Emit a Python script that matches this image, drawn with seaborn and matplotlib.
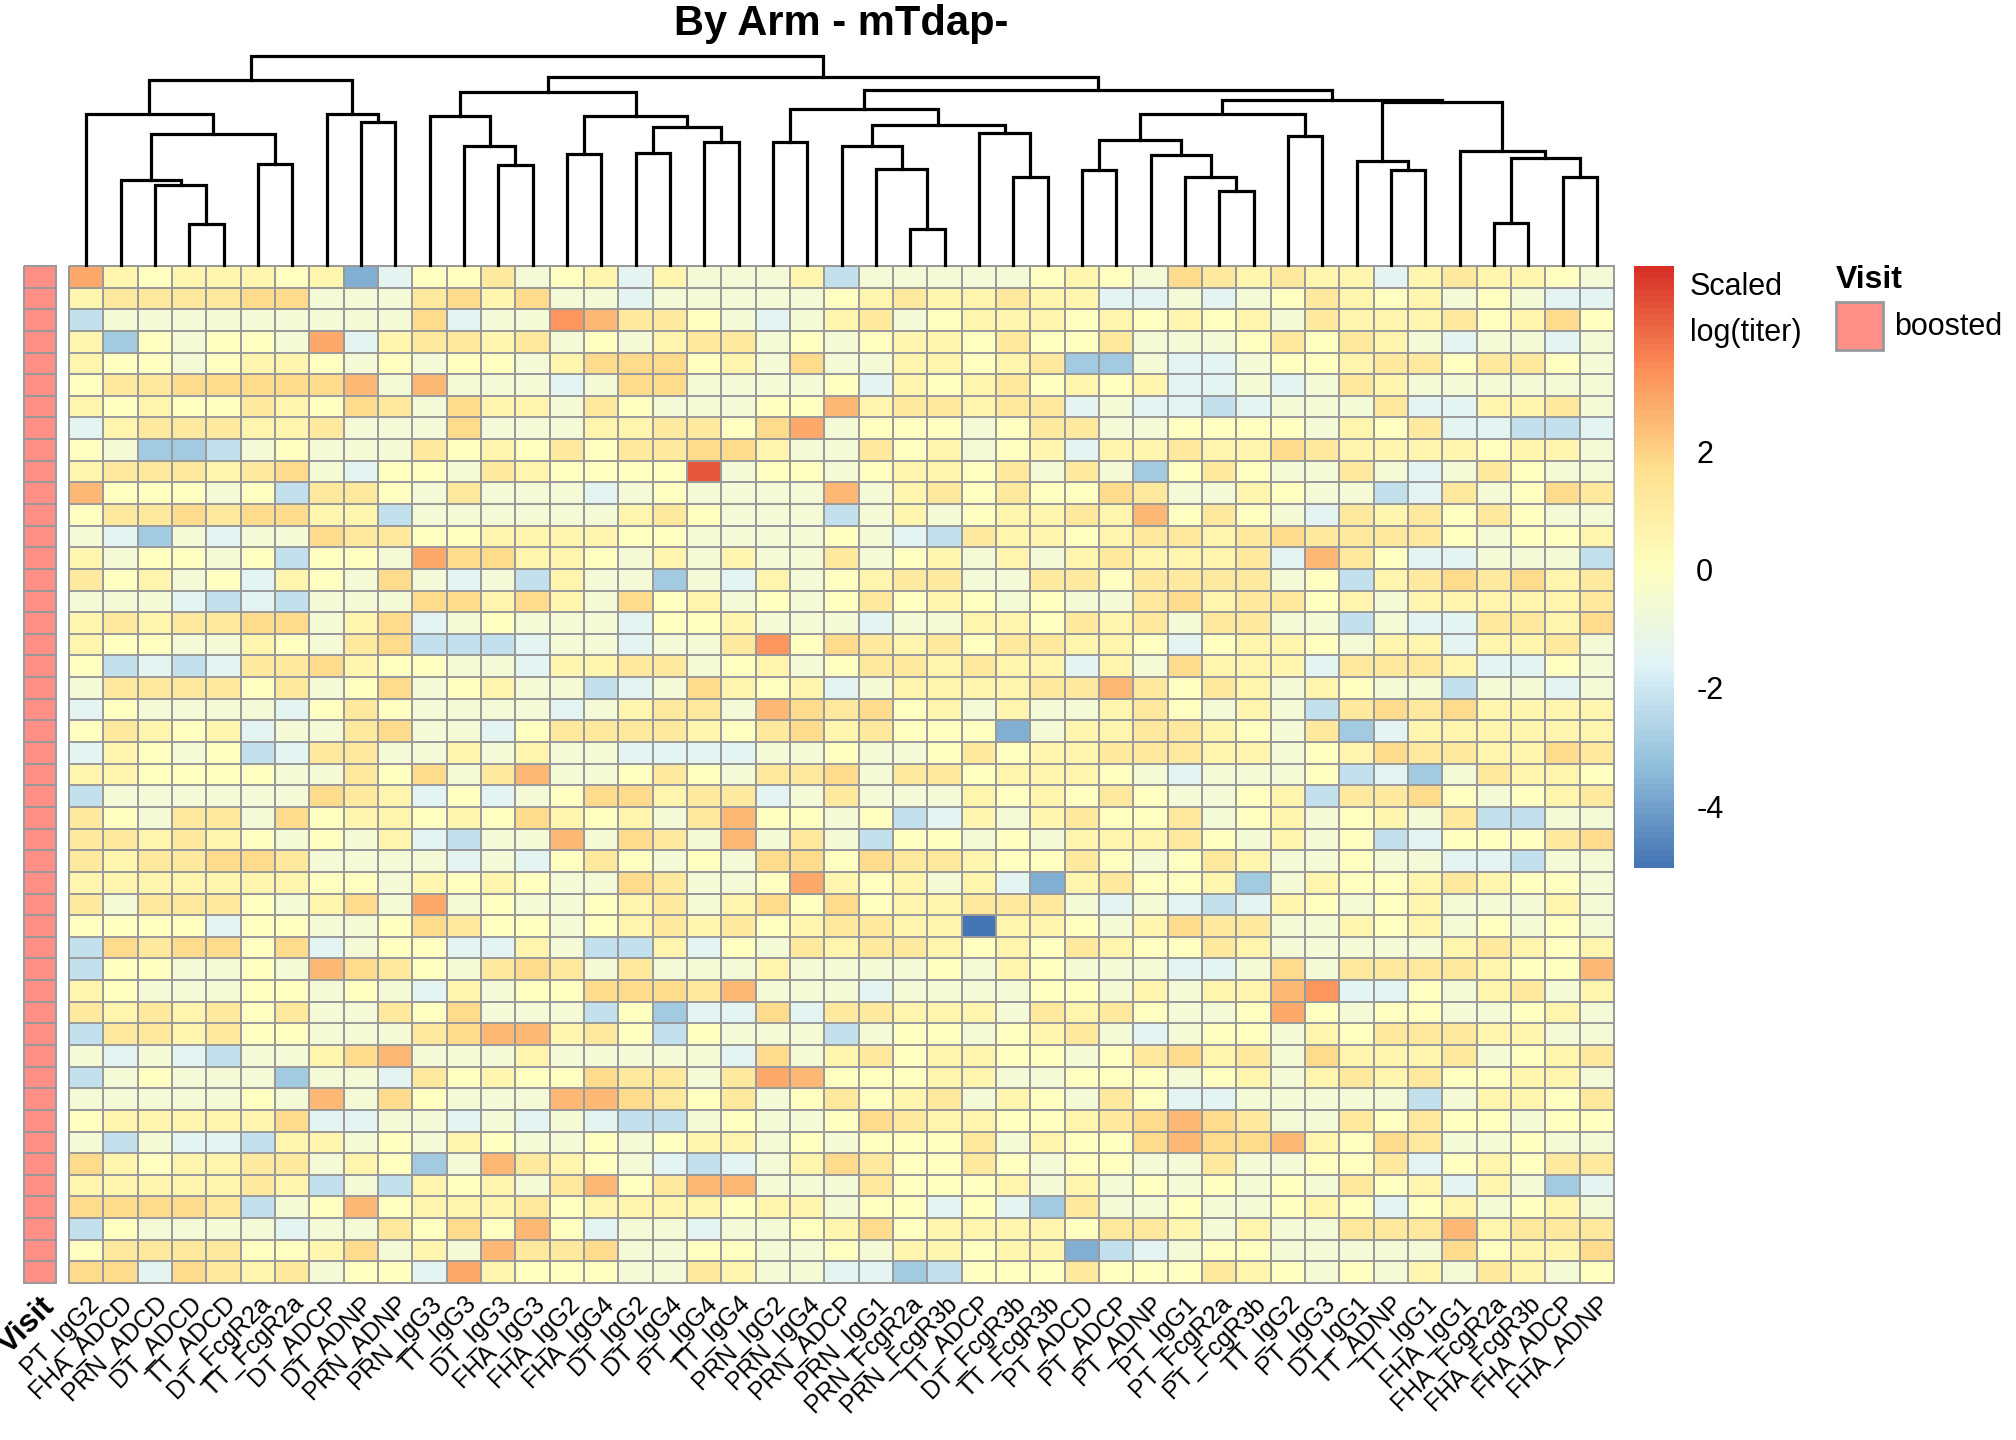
import numpy as np
import pandas as pd
import matplotlib
matplotlib.use("Agg")
import matplotlib.pyplot as plt
from matplotlib.colors import LinearSegmentedColormap, ListedColormap
from matplotlib.patches import Rectangle
import seaborn as sns

# column order as shown (after clustering)
features = [
    "PT_IgG2", "FHA_ADCD", "PRN_ADCD", "DT_ADCD", "TT_ADCD", "DT_FcgR2a",
    "TT_FcgR2a", "DT_ADCP", "DT_ADNP", "PRN_ADNP", "PRN_IgG3", "TT_IgG3",
    "DT_IgG3", "FHA_IgG3", "FHA_IgG2", "FHA_IgG4", "DT_IgG2", "DT_IgG4",
    "PT_IgG4", "TT_IgG4", "PRN_IgG2", "PRN_IgG4", "PRN_ADCP", "PRN_IgG1",
    "PRN_FcgR2a", "PRN_FcgR3b", "TT_ADCP", "DT_FcgR3b", "TT_FcgR3b",
    "PT_ADCD", "PT_ADCP", "PT_ADNP", "PT_IgG1", "PT_FcgR2a", "PT_FcgR3b",
    "TT_IgG2", "PT_IgG3", "DT_IgG1", "TT_ADNP", "TT_IgG1", "FHA_IgG1",
    "FHA_FcgR2a", "FHA_FcgR3b", "FHA_ADCP", "FHA_ADNP",
]

levels = {
    "A": -5.05, "B": -3.7, "C": -3.0, "D": -2.2, "E": -1.4, "F": -0.6,
    "G": 0.0, "H": 0.6, "I": 1.2, "J": 1.8, "K": 2.5, "L": 2.9,
    "M": 3.3, "N": 4.4,
}
rows = [
    "LHGHHHGHBEGGIFGHEHFFFHD" + "FFFFFGHGFJIHIHHEHIHHGF",
    "HIIIIJJFFFIJHJFFEFFFFFG" + "HIHHIHHEEFEFGIHGHFGFEE",
    "DFFFFFFFFFJEFFMKIIGFEFH" + "IFGHHHGHGHGHFIHHHIGHJG",
    "HCGFGGFLEHIIHIFGFHIIFGF" + "GHHGIGGIFFFGIGIHFEFFEF",
    "HGGFGHHGFGFGGFHJJJGHFJF" + "FHHGHICCFEEFGGHIIGIIGF",
    "GIIJJJJJKFKFFFEFJJFFFFG" + "EHGHIGHGHEEFEFIHFFFFFF",
    "HGHGGIHGJIFJHHFIGFFFGGK" + "HIIHIIEFEEDEFFFIEEHHIF",
    "EHIIIHHIFFFJFFFHHIIGJLF" + "GGGFGIIFFGGGGFHGIEEDDE",
    "GFCCDFGFFFIGHGIGIIJJHFF" + "IGHFGHEHHIHHJIHHHHGHHF",
    "HIIIHIJFEGGFIHGGGGNFGGF" + "GHHGIFIFCGIGFFIFEFIGFF",
    "KGGGFGDIIGFIFFFEFGFFFFK" + "FHIGIGGJIFFHGFFDEIFGJI",
    "GIIJIJJHHDFFFFFFHIGFFFD" + "FHFGHHIHKGIGFEIHIGIGFF",
    "FECFEFFJIIGGHHHHGGFFFFG" + "FEDIHHGHIIHIJIIIIGFGGH",
    "HFGGFGDGGFLJJHHGFHFHFFI" + "FGHFHFHIHHHIEKIGEEFFFD",
    "IGHFGEHGFJFEFDHFFCFEHFG" + "HIIFFIIGIIIIFGDHIJIJHI",
    "FFFEDEDFFFJJHJHFJGHFGFG" + "IGHGFGFFIJHIIGHFHHHHHI",
    "HIHIIJJFHJEFGFFFEGGHFFF" + "EFFHHGIHIFIIFFDFEEIIHJ",
    "HGGFFHGFIJDDDEFFEFFIMGJ" + "IHIGIIHHGEGHHGFHHEHHIF",
    "GDEDEIIJHGGFFEHHIIFGHFG" + "IIHIHHEHFJHHHEIIIHEEGF",
    "FIIIIGIFGJFGHFFDEFJHGHE" + "FHHHHIIKIGIHFHGFFDFFEF",
    "EGFFFFEGIGFFFFEFHIIFKJI" + "JGHFHFFHIGFHFDIJIJHHHH",
    "GIHGHEFFIJFFEGIIIIHGIJH" + "IGGGBFHHIIHGFICEHHHHHH",
    "EHGFGDEIIFFHFHFFEEEEFFG" + "FFGIGHHIIIHHFGHJIIHHJI",
    "HHGGGGFFIGJFIKFFGIGFIIJ" + "FIIGHHHGFEFFFGDECFIHHG",
    "DFFFFFFJIHEGEFGJJHIIEFI" + "FFFHGHGIGFFGHDIIJGFGHI",
    "IGFIIFJGHHGHGJHGHFIKGGF" + "GDEHFHIGGIFGHFGHFIDDFF",
    "IIHIHGFGFHEDFFKFJIFKFIF" + "DGGFGFHHHIGFHFGDEGGGIJ",
    "IHIIJJIFFFFEFEGIGFGFJJG" + "JIIHGGIGFGIHFFGFFEEDFF",
    "HHHHHHHGGFHGHGFFJIFFGLH" + "GHFHEBHIGGHCFHGGHIHGGF",
    "IFIIIGFHJFLFGFFGHIFHJGJ" + "GHHIIIFEFEDEHGFGHFFFHF",
    "GGGGEGGFFGJIGGFGHIHIGHI" + "IHHAHHGFHJIIFFHGHFGFGF",
    "DJIJJGJEFGGEEHFDDHEGFIH" + "IIHGHGIHGGIHFFFFFHIHGH",
    "DGGFFGFKJIGFIJIFIFFFHFF" + "FFGFHGFFFEEFJFIIIIHGGK",
    "HGFFFGGFGFEHFGGJJJIKFFF" + "EFFFFGGFHFHHKMEEGFHIFH",
    "IHIHIGIFFIGJFFFDGCEEJEI" + "IHHHFIHIGFFGLGFGGFFGHF",
    "DIIHIGGFFFIJKKHIGDGFFFD" + "FGGFGHIFEFGGFHGIIIHHFF",
    "FEFEDFFHJKFFFHFFFFFEJFH" + "IGHHGGFGIJHIFJHHHIFGHI",
    "DFGFFFCFFEIGHGGJIIFILKG" + "GGHHFFGGGFGHFHIHIGGHHF",
    "FFFFFGFKFJGFFFKKJIGIFGI" + "GHIFHGFIGEEFFFFFDFHHGI",
    "GHHHHHJEEFFEFEFEDDFGFFG" + "JIHHGGHIJKJIFFIGIGGFGG",
    "FDFEEDHHFGFHGFFGFGHHFGF" + "GGGIFHGGJKJJKHGJIFFGFF",
    "JHGHHIIFHGCFKIHGFEDEFHJ" + "IGGIGFGGFFIFFGGIEGHGII",
    "HHHHHIHDFDHGHFIKGIKKFFF" + "IGGGHFHFGFGFGFIGHEHFCE",
    "JJJJIDFGKGHHHIGHHHHGHHF" + "GGEGECIFFGFFGHGEGHFGHF",
    "DGFFFFEFFIGJGKGEFFEFFGH" + "JGHHHHGIIHFHFFIIIKHIII",
    "GIIIIGGHJFHFKIIJFFGGFFG" + "FHHGHHBDEFGGFFFFFJGHHJ",
    "JJEJIHIFGGELHGGGFFIHFFE" + "ECDGGGIGGGIHGFGFHFIHFG",
]
visit = ["boosted"] * len(rows)

# column dendrogram: (left node, right node, height); leaves 0-44, merges 45+
merges = [
    (3, 4, 19.5), (2, 45, 38.1), (1, 46, 40.5), (5, 6, 48.3),
    (47, 48, 62.5), (0, 49, 72.1), (8, 9, 68.3), (7, 51, 72.1),
    (50, 52, 88.4), (12, 13, 47.8), (11, 54, 56.9), (10, 55, 71.1),
    (14, 15, 53.0), (16, 17, 53.4), (18, 19, 58.7), (58, 59, 65.9),
    (57, 60, 71.1), (56, 61, 82.8), (20, 21, 58.7), (24, 25, 17.1),
    (23, 64, 45.8), (22, 65, 56.9), (27, 28, 42.1), (26, 67, 63.2),
    (66, 68, 66.8), (63, 69, 74.6), (29, 30, 45.5), (33, 34, 35.4),
    (32, 72, 42.1), (31, 73, 52.5), (71, 74, 59.6), (35, 36, 61.7),
    (75, 76, 72.4), (38, 39, 45.5), (37, 78, 49.8), (41, 42, 19.9),
    (43, 44, 42.1), (80, 81, 51.0), (40, 82, 54.5), (79, 83, 78.1),
    (77, 84, 79.1), (70, 85, 83.7), (62, 86, 90.0), (53, 87, 100.0),
]

for r in rows:
    assert len(r) == len(features), r
mat = pd.DataFrame([[levels[c] for c in r] for r in rows], columns=features)

vmin, vmax = -5.05, 5.15
cmap = LinearSegmentedColormap.from_list(
    "rdylbu_r",
    ["#4575B4", "#91BFDB", "#E0F3F8", "#FFFFBF", "#FEE090", "#FC8D59", "#D73027"],
    N=100,
)
border = "#999999"

sns.set_style("white")
plt.rcParams["font.family"] = ["Liberation Sans", "DejaVu Sans"]
plt.rcParams["text.color"] = "black"
plt.rcParams["xtick.color"] = "black"
plt.rcParams["ytick.color"] = "black"
plt.rcParams["axes.labelcolor"] = "black"

W, H = 2016, 1440
fig = plt.figure(figsize=(W / 200, H / 200), dpi=200)


def box(x0, y0, x1, y1):
    return [x0 / W, 1 - y1 / H, (x1 - x0) / W, (y1 - y0) / H]


# main heatmap
ax_hm = fig.add_axes(box(69, 266, 1614, 1283))
sns.heatmap(mat, ax=ax_hm, cmap=cmap, vmin=vmin, vmax=vmax, cbar=False,
            linewidths=0.7, linecolor=border, xticklabels=features,
            yticklabels=False)
ax_hm.collections[0].set_clip_on(False)
ax_hm.tick_params(axis="x", length=0, pad=3)
for lab in ax_hm.get_xticklabels():
    lab.set_rotation(45)
    lab.set_ha("right")
    lab.set_va("top")
    lab.set_rotation_mode("anchor")
    lab.set_fontsize(9)
    lab.set_color("black")

# visit annotation column
ax_ann = fig.add_axes(box(24, 266, 56, 1283))
sns.heatmap(pd.DataFrame({"Visit": np.zeros(len(visit))}), ax=ax_ann,
            cmap=ListedColormap(["#FF8F87"]), cbar=False, linewidths=0.7,
            linecolor=border, xticklabels=["Visit"], yticklabels=False)
ax_ann.collections[0].set_clip_on(False)
ax_ann.tick_params(axis="x", length=0, pad=3)
for lab in ax_ann.get_xticklabels():
    lab.set_rotation(45)
    lab.set_ha("right")
    lab.set_va("top")
    lab.set_rotation_mode("anchor")
    lab.set_fontsize(11.5)
    lab.set_fontweight("bold")
    lab.set_color("black")

# column dendrogram
ax_den = fig.add_axes(box(69, 56, 1614, 265))
pos = {i: i + 0.5 for i in range(len(features))}
hgt = {i: 0.0 for i in range(len(features))}
for k, (a, b, h) in enumerate(merges):
    node = len(features) + k
    xa, xb = pos[a], pos[b]
    ax_den.plot([xa, xa, xb, xb], [hgt[a], h, h, hgt[b]], color="black",
                lw=1.15, solid_capstyle="projecting", solid_joinstyle="miter",
                clip_on=False)
    pos[node] = (xa + xb) / 2
    hgt[node] = h
ax_den.set_xlim(0, len(features))
ax_den.set_ylim(0, 100)
ax_den.axis("off")

# colour key
ax_cb = fig.add_axes(box(1634, 266, 1674, 868))
grad = np.linspace(vmin, vmax, 200)[:, None]
ax_cb.imshow(grad, aspect="auto", cmap=cmap, vmin=vmin, vmax=vmax,
             origin="lower", extent=[0, 1, vmin, vmax])
ax_cb.set_ylim(vmin, vmax)
ax_cb.set_xticks([])
ax_cb.yaxis.tick_right()
ax_cb.set_yticks([-4, -2, 0, 2])
ax_cb.set_yticklabels(["-4", "-2", "0", "2"], fontsize=11)
ax_cb.tick_params(axis="y", length=0, pad=8)
for s in ax_cb.spines.values():
    s.set_visible(False)

fig.text(1690 / W, 1 - 287 / H, "Scaled", fontsize=11, ha="left", va="center")
fig.text(1690 / W, 1 - 333 / H, "log(titer)", fontsize=11, ha="left",
         va="center")

# annotation legend
fig.text(1836 / W, 1 - 280 / H, "Visit", fontsize=11.5, fontweight="bold",
         ha="left", va="center")
fig.add_artist(Rectangle((1836 / W, 1 - 350 / H), 47 / W, 48 / H,
                         transform=fig.transFigure, facecolor="#FF8F87",
                         edgecolor=border, lw=1.0))
fig.text(1894 / W, 1 - 327 / H, "boosted", fontsize=11, ha="left",
         va="center")

fig.text(841 / W, 1 - 24 / H, "By Arm - mTdap-", fontsize=15,
         fontweight="bold", ha="center", va="center")

fig.savefig("out.png", dpi=200)
